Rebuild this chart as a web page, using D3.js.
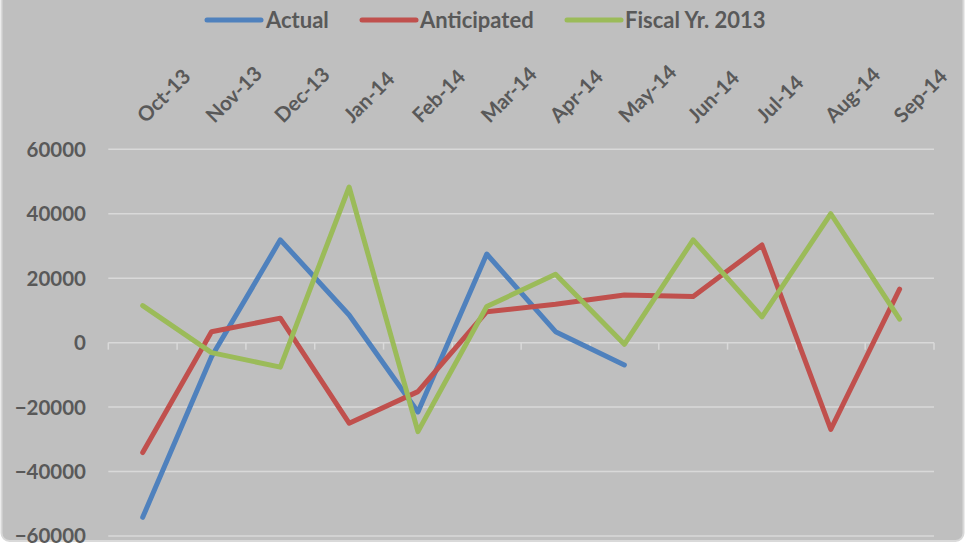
<!DOCTYPE html>
<html>
<head>
<meta charset="utf-8">
<script src="https://cdn.jsdelivr.net/npm/d3@7"></script>
<style>
  html, body { margin: 0; padding: 0; background: #ffffff; }
  svg { display: block; }
  text { font-family: Lato, "Open Sans", sans-serif; font-weight: bold; fill: #595959; }
</style>
</head>
<body>
<script>
const months = ["Oct-13","Nov-13","Dec-13","Jan-14","Feb-14","Mar-14","Apr-14","May-14","Jun-14","Jul-14","Aug-14","Sep-14"];
const actual = [-54200, -4400, 31900, 8600, -21500, 27500, 3400, -6900];
const anticipated = [-34100, 3400, 7600, -25000, -15200, 9600, 11900, 14800, 14300, 30300, -26900, 16600];
const fiscal2013 = [11500, -3100, -7600, 48300, -27600, 11200, 21200, -500, 31900, 8000, 40000, 7300];
const yTicks = [-60000, -40000, -20000, 0, 20000, 40000, 60000];
const seriesNames = ["Actual", "Anticipated", "Fiscal Yr. 2013"];
const seriesColors = ["#4f81bd", "#c0504d", "#9bbb59"];

const W = 973, H = 546;
const svg = d3.select("body").append("svg").attr("width", W).attr("height", H);

// chart area background
svg.append("rect")
  .attr("x", 1.5).attr("y", -12).attr("width", 962).attr("height", 553)
  .attr("rx", 8).attr("fill", "#bfbfbf").attr("stroke", "#d9d9d9").attr("stroke-width", 2);

const plotL = 108.3, plotR = 934;
const x = d3.scaleBand().domain(months).range([plotL, plotR]).padding(0);
const y = d3.scaleLinear().domain([-60000, 60000]).range([536, 149.3]);

// gridlines
svg.append("g").selectAll("line").data(yTicks).join("line")
  .attr("x1", plotL).attr("x2", plotR)
  .attr("y1", d => y(d)).attr("y2", d => y(d))
  .attr("stroke", "#d9d9d9").attr("stroke-width", 1.5);

// y axis labels
const yAxis = d3.axisLeft(y).tickValues(yTicks).tickSize(0).tickPadding(0).tickFormat(d3.format("d"));
const gy = svg.append("g").attr("transform", `translate(86,0)`).call(yAxis);
gy.select(".domain").remove();
gy.selectAll("text").attr("font-size", 20.5).attr("fill", "#595959")
  .style("font-family", "Lato, sans-serif").style("font-weight", "bold").attr("dy", "0.34em");

// category axis at zero with tick marks at boundaries
const boundaries = months.map(m => x(m)).concat([plotR]);
svg.append("g").selectAll("line").data(boundaries).join("line")
  .attr("x1", d => d).attr("x2", d => d)
  .attr("y1", y(0)).attr("y2", y(0) + 7)
  .attr("stroke", "#d9d9d9").attr("stroke-width", 1.5);

// rotated x labels at the top
svg.append("g").selectAll("text").data(months).join("text")
  .attr("transform", d => `translate(${x(d) + x.bandwidth() / 2 + 3},124) rotate(-45)`)
  .attr("text-anchor", "start")
  .attr("font-size", 20.5)
  .text(d => d);

// lines
const line = d3.line()
  .x((d, i) => x(months[i]) + x.bandwidth() / 2)
  .y(d => y(d));
[actual, anticipated, fiscal2013].forEach((s, k) => {
  svg.append("path").datum(s)
    .attr("d", line)
    .attr("fill", "none")
    .attr("stroke", seriesColors[k])
    .attr("stroke-width", 5)
    .attr("stroke-linejoin", "round")
    .attr("stroke-linecap", "round");
});

// legend
const legendItems = [
  { name: seriesNames[0], color: seriesColors[0], x1: 207, tx: 266 },
  { name: seriesNames[1], color: seriesColors[1], x1: 362, tx: 420 },
  { name: seriesNames[2], color: seriesColors[2], x1: 567, tx: 625 }
];
const lg = svg.append("g");
legendItems.forEach(it => {
  lg.append("line").attr("x1", it.x1).attr("x2", it.x1 + 54)
    .attr("y1", 20).attr("y2", 20)
    .attr("stroke", it.color).attr("stroke-width", 5).attr("stroke-linecap", "round");
  lg.append("text").attr("x", it.tx).attr("y", 27.5).attr("font-size", 22).text(it.name);
});
</script>
</body>
</html>
